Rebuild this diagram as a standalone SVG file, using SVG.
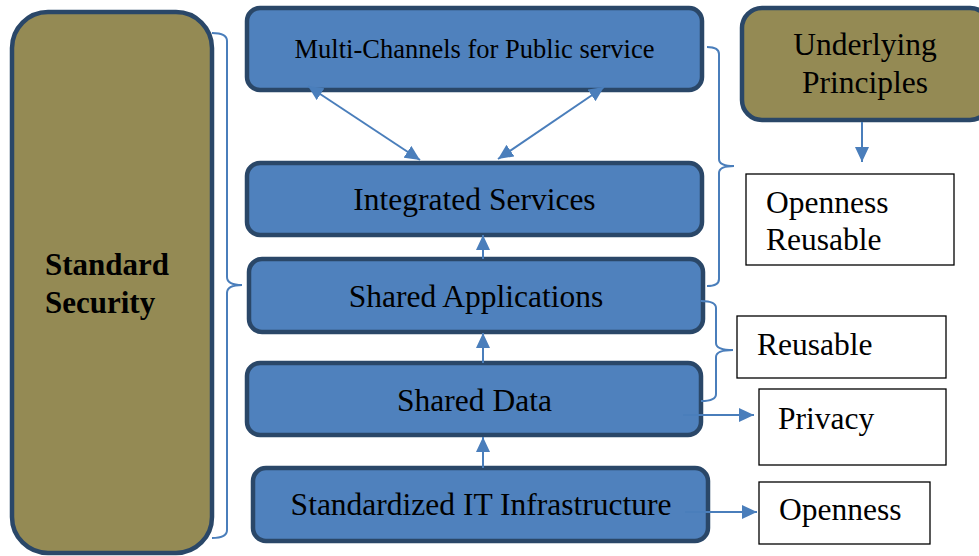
<svg xmlns="http://www.w3.org/2000/svg" width="979" height="556" viewBox="0 0 979 556">
<style>
.blue{fill:#4f81bd;stroke:#2a4768;stroke-width:4.5}
.olive{fill:#948a54;stroke:#2a4768;stroke-width:4.5}
.wbox{fill:#fff;stroke:#000;stroke-width:1.3}
.t{font-family:"Liberation Serif","Times New Roman",serif;font-size:31.5px;fill:#000}
.c{text-anchor:middle}
.b{font-weight:bold;font-size:31px}
.s{font-size:26.5px}
.ln{fill:none;stroke:#4a7ebb;stroke-width:2}
.ar{marker-end:url(#ah)}
.dbl{marker-start:url(#ah);marker-end:url(#ah)}
</style>
<defs>
<marker id="ah" markerUnits="userSpaceOnUse" markerWidth="15" markerHeight="14" refX="15" refY="7" orient="auto-start-reverse">
<path d="M0,0 L15,7 L0,14 z" fill="#4a7ebb"/>
</marker>
</defs>
<g id="standard-security">
<rect class="olive" x="12" y="12" width="200" height="541" rx="36"/>
<text class="t b" x="45" y="275">Standard</text>
<text class="t b" x="45" y="313">Security</text>
</g>
<g id="multi-channels">
<rect class="blue" x="247" y="8" width="455" height="82" rx="13"/>
<text class="t c s" x="474.5" y="58">Multi-Channels for Public service</text>
</g>
<g id="integrated-services">
<rect class="blue" x="247" y="163" width="455" height="72" rx="13"/>
<text class="t c" x="474.5" y="210">Integrated Services</text>
</g>
<g id="shared-applications">
<rect class="blue" x="249" y="259" width="454" height="73" rx="13"/>
<text class="t c" x="476" y="307">Shared Applications</text>
</g>
<g id="shared-data">
<rect class="blue" x="247" y="363" width="454" height="72" rx="13"/>
<text class="t c" x="474.5" y="411">Shared Data</text>
</g>
<g id="it-infrastructure">
<rect class="blue" x="253" y="468" width="455" height="73" rx="13"/>
<text class="t c" x="481" y="515">Standardized IT Infrastructure</text>
</g>
<g id="underlying-principles">
<rect class="olive" x="742" y="8" width="248" height="112" rx="20"/>
<text class="t c" x="865" y="55">Underlying</text>
<text class="t c" x="865" y="93">Principles</text>
</g>
<g id="openness-reusable">
<rect class="wbox" x="746" y="174" width="208" height="91"/>
<text class="t" x="766" y="213">Openness</text>
<text class="t" x="766" y="250">Reusable</text>
</g>
<g id="reusable">
<rect class="wbox" x="737" y="316" width="209" height="62"/>
<text class="t" x="757" y="355">Reusable</text>
</g>
<g id="privacy">
<rect class="wbox" x="759" y="389" width="187" height="76"/>
<text class="t" x="778" y="429">Privacy</text>
</g>
<g id="openness">
<rect class="wbox" x="759" y="482" width="171" height="62"/>
<text class="t" x="779" y="520">Openness</text>
</g>
<g id="connectors">
<line class="ln dbl" x1="308" y1="86" x2="420" y2="160"/>
<line class="ln dbl" x1="604" y1="87" x2="498" y2="159"/>
<line class="ln ar" x1="483" y1="259" x2="483" y2="235"/>
<line class="ln ar" x1="483" y1="363" x2="483" y2="333"/>
<line class="ln ar" x1="483" y1="468" x2="483" y2="437"/>
<line class="ln ar" x1="862" y1="122" x2="862" y2="162"/>
<line class="ln ar" x1="683" y1="415" x2="754" y2="415"/>
<line class="ln ar" x1="685" y1="512" x2="757" y2="512"/>
<path class="ln" d="M212,33 Q227,33 227,41 L227,277 Q227,285 242,285 Q227,285 227,293 L227,530 Q227,538 212,538"/>
<path class="ln" d="M707,47 Q719,47 719,54 L719,159 Q719,166 734,166 Q719,166 719,173 L719,279 Q719,286 707,286"/>
<path class="ln" d="M701,301 Q716,301 716,308 L716,343 Q716,350 733,350 Q716,350 716,357 L716,394 Q716,401 701,401"/>
</g>
</svg>
